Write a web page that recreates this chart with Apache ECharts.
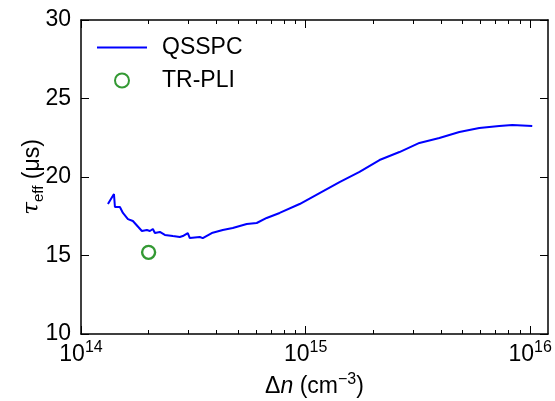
<!DOCTYPE html>
<html>
<head>
<meta charset="utf-8">
<script src="https://cdn.jsdelivr.net/npm/echarts@6/dist/echarts.min.js"></script>
</head>
<body style="margin:0">
<div id="container" style="width:555px;height:401px;"></div>
<script type="text/javascript">
// QSSPC curve
var qsspcN = [1.318e14, 1.402e14, 1.416e14, 1.490e14, 1.537e14, 1.618e14, 1.702e14, 1.867e14,
    1.965e14, 2.026e14, 2.089e14, 2.133e14, 2.244e14, 2.362e14, 2.564e14, 2.754e14, 2.840e14,
    2.989e14, 3.051e14, 3.380e14, 3.485e14, 3.822e14, 4.277e14, 4.739e14, 5.469e14, 6.058e14,
    6.709e14, 7.662e14, 9.404e14, 1.154e15, 1.416e15, 1.738e15, 2.133e15, 2.617e15, 3.211e15,
    3.940e15, 4.835e15, 5.933e15, 7.280e15, 8.318e15, 1.021e16];
var qsspcTau = [18.28, 18.92, 18.09, 18.09, 17.71, 17.32, 17.20, 16.56,
    16.62, 16.56, 16.69, 16.43, 16.50, 16.31, 16.24, 16.18, 16.24,
    16.43, 16.11, 16.18, 16.11, 16.43, 16.62, 16.75, 17.01, 17.07,
    17.39, 17.71, 18.28, 18.98, 19.68, 20.32, 21.08, 21.59, 22.17,
    22.48, 22.87, 23.12, 23.25, 23.31, 23.25];
var trpliN = [2.0e14];
var trpliTau = [15.2];

var xMin = 1e14, xMax = 1.2e16;
var majorDecades = [1e14, 1e15, 1e16];
var minorMult = [2, 3, 4, 5, 6, 7, 8, 9];
var yTicks = [10, 15, 20, 25, 30];

var majorTicks = majorDecades.map(function (v) { return Math.log10(v); });
var minorTicks = [];
majorDecades.forEach(function (d) {
    minorMult.forEach(function (m) {
        if (d * m <= xMax) minorTicks.push(Math.log10(d * m));
    });
});

var font = 'Liberation Sans, Arial, sans-serif';
var dom = document.getElementById('container');
var myChart = echarts.init(dom);

function xAxisDef(pos, ticks, len, showLabel, showLine) {
    return {
        type: 'value', position: pos, min: Math.log10(xMin), max: Math.log10(xMax),
        axisLine: { show: showLine, onZero: false, lineStyle: { color: '#000', width: 1.5 } },
        axisTick: { show: true, inside: true, length: len, customValues: ticks, lineStyle: { color: '#000', width: 1 } },
        axisLabel: {
            show: showLabel, customValues: ticks, margin: 6,
            formatter: function (v) { return '{b|10}{s|' + Math.round(v) + '}'; },
            rich: {
                b: { fontFamily: font, fontSize: 23, color: '#000' },
                s: { fontFamily: font, fontSize: 16, color: '#000', padding: [0, 0, 14, 0] }
            }
        },
        splitLine: { show: false }
    };
}

var xAxes = [
    xAxisDef('bottom', majorTicks, 8, true, true),
    xAxisDef('bottom', minorTicks, 4, false, false),
    xAxisDef('top', majorTicks, 8, false, true),
    xAxisDef('top', minorTicks, 4, false, false)
];
xAxes[0].name = '{d|Δ}{i|n} (cm{sp|−3})';
xAxes[0].nameLocation = 'middle';
xAxes[0].nameGap = 38;
xAxes[0].nameTextStyle = {
    fontFamily: font, fontSize: 23, color: '#000',
    rich: {
        d: { fontFamily: font, fontSize: 23, color: '#000' },
        i: { fontFamily: font, fontSize: 23, fontStyle: 'italic', color: '#000' },
        sp: { fontFamily: font, fontSize: 16, color: '#000', padding: [0, 0, 14, 0] }
    }
};

function yAxisDef(pos, showLabel) {
    return {
        type: 'value', position: pos, min: 10, max: 30, interval: 5,
        axisLine: { show: true, lineStyle: { color: '#000', width: 1.5 } },
        axisTick: { show: true, inside: true, length: 8, lineStyle: { color: '#000', width: 1 } },
        axisLabel: { show: showLabel, fontFamily: font, fontSize: 23, color: '#000', margin: 10 },
        splitLine: { show: false }
    };
}
var yAxes = [yAxisDef('left', true), yAxisDef('right', false)];
yAxes[0].name = '{t|τ}{sb|eff} (μs)';
yAxes[0].nameLocation = 'middle';
yAxes[0].nameGap = 35;
yAxes[0].nameMoveOverlap = false;
yAxes[0].nameTextStyle = {
    fontFamily: font, fontSize: 23, color: '#000',
    rich: {
        t: { fontFamily: 'DejaVu Serif', fontSize: 23, fontStyle: 'italic', color: '#000' },
        sb: { fontFamily: font, fontSize: 15, color: '#000', padding: [12, 0, 0, 0] }
    }
};

option = {
    animation: false,
    backgroundColor: '#fff',
    grid: { left: 81, top: 20, right: 7, bottom: 67, outerBoundsMode: 'none' },
    legend: {
        orient: 'vertical', left: 92, top: 31,
        itemWidth: 50, itemHeight: 14, itemGap: 10,
        textStyle: { fontFamily: font, fontSize: 23, color: '#000', padding: [0, 0, 0, 10] },
        data: [
            { name: 'QSSPC', icon: 'path://M0,0L50,0L50,2L0,2Z' },
            { name: 'TR-PLI' }
        ]
    },
    xAxis: xAxes,
    yAxis: yAxes,
    series: [
        {
            name: 'QSSPC', type: 'line', symbol: 'none',
            lineStyle: { color: '#0000ff', width: 2 },
            itemStyle: { color: '#0000ff' },
            data: qsspcN.map(function (n, i) { return [Math.log10(n), qsspcTau[i]]; })
        },
        {
            name: 'TR-PLI', type: 'scatter', symbol: 'circle', symbolSize: 13,
            itemStyle: { color: 'rgba(255,255,255,0)', borderColor: '#008000', borderWidth: 2.4 },
            data: trpliN.map(function (n, i) { return [Math.log10(n), trpliTau[i]]; })
        }
    ]
};
myChart.setOption(option, true);
</script>
</body>
</html>
